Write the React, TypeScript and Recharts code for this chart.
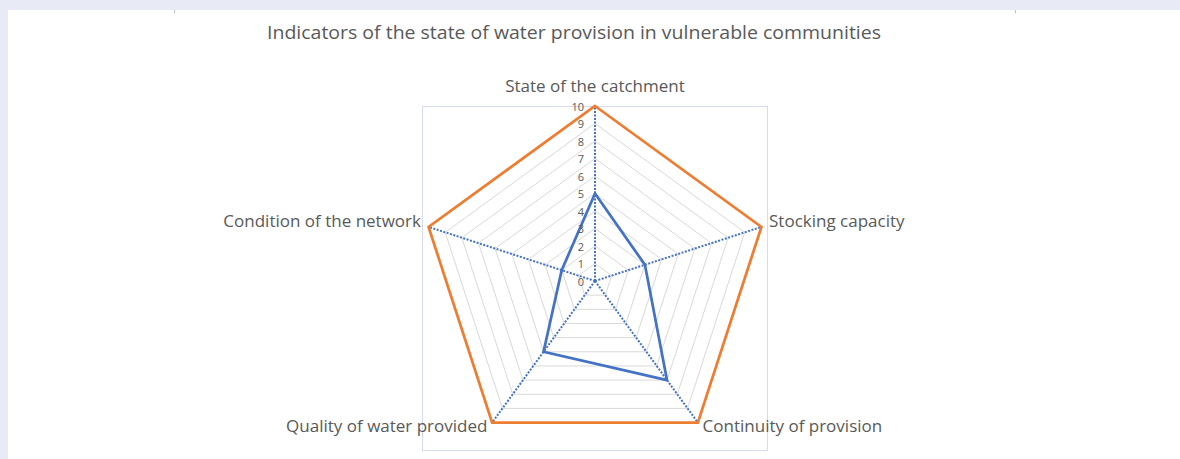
import React from "react"
import { RadarChart, Radar, PolarGrid, PolarAngleAxis, PolarRadiusAxis } from "recharts"

const categories = [
  "State of the catchment",
  "Stocking capacity",
  "Continuity of provision",
  "Quality of water provided",
  "Condition of the network",
]
const currentValues = [5, 3, 7, 5, 2]
const maxValues = [10, 10, 10, 10, 10]
const radiusTicks = [0, 1, 2, 3, 4, 5, 6, 7, 8, 9, 10]

const title = "Indicators of the state of water provision in vulnerable communities"

const data = categories.map((name, i) => ({
  name,
  current: currentValues[i],
  max: maxValues[i],
}))

const FONT = "'Open Sans', 'Noto Sans', sans-serif"
const TEXT = "#595959"

function AngleTick(props: any) {
  const { x, y, textAnchor, payload } = props
  const dy = textAnchor === "middle" ? -13 : -4
  return (
    <text
      x={x}
      y={y}
      dy={dy}
      textAnchor={textAnchor}
      dominantBaseline="central"
      fontFamily={FONT}
      fontSize={17}
      fill={TEXT}
    >
      {payload.value}
    </text>
  )
}

function RadiusTick(props: any) {
  const { x, y, payload } = props
  return (
    <text
      x={x - 11}
      y={y}
      textAnchor="end"
      dominantBaseline="central"
      fontFamily={FONT}
      fontSize={11}
      fill={TEXT}
    >
      {payload.value}
    </text>
  )
}

export default function App() {
  return (
    <div style={{ position: "fixed", left: 0, top: 0, width: 1180, height: 459, background: "#E8EBF5", overflow: "hidden" }}>
      <div style={{ position: "absolute", left: 8, top: 10, width: 1172, height: 449, background: "#fff" }}>
        {/* small tick marks along the top edge */}
        <div style={{ position: "absolute", left: 166, top: 0, width: 1, height: 3, background: "#BFBFBF" }} />
        <div style={{ position: "absolute", left: 1007, top: 0, width: 1, height: 3, background: "#BFBFBF" }} />
        {/* plot area border */}
        <div style={{ position: "absolute", left: 414, top: 96, width: 346, height: 345, border: "1px solid #D3DCF0", boxSizing: "border-box" }} />
        <svg width={1172} height={40} style={{ position: "absolute", left: 0, top: 0 }}>
          <text
            x={566}
            y={22}
            textAnchor="middle"
            dominantBaseline="central"
            fontFamily={FONT}
            fontSize={18}
            fill={TEXT}
            textLength={614}
            lengthAdjust="spacingAndGlyphs"
          >
            {title}
          </text>
        </svg>
        <div style={{ position: "absolute", left: 0, top: 0 }}>
          <RadarChart width={1172} height={449} data={data} cx={587} cy={271} outerRadius={175} margin={{ top: 0, right: 0, bottom: 0, left: 0 }}>
            <PolarGrid gridType="polygon" radialLines={false} stroke="#D9D9D9" strokeWidth={1} />
            <PolarGrid polarRadius={[]} radialLines stroke="#4472C4" strokeWidth={2} strokeDasharray="2 1.5" />
            <PolarAngleAxis dataKey="name" tick={AngleTick} axisLine={false} tickLine={false} />
            <PolarRadiusAxis
              angle={90}
              domain={[0, 10]}
              ticks={radiusTicks as any}
              tickCount={11}
              tick={RadiusTick}
              axisLine={false}
              tickLine={false}
            />
            <Radar dataKey="max" stroke="#ED7D31" strokeWidth={2.75} fill="none" fillOpacity={0} dot={false} isAnimationActive={false} />
            <Radar dataKey="current" stroke="#4472C4" strokeWidth={2.75} fill="none" fillOpacity={0} dot={false} isAnimationActive={false} />
          </RadarChart>
        </div>
      </div>
    </div>
  )
}
